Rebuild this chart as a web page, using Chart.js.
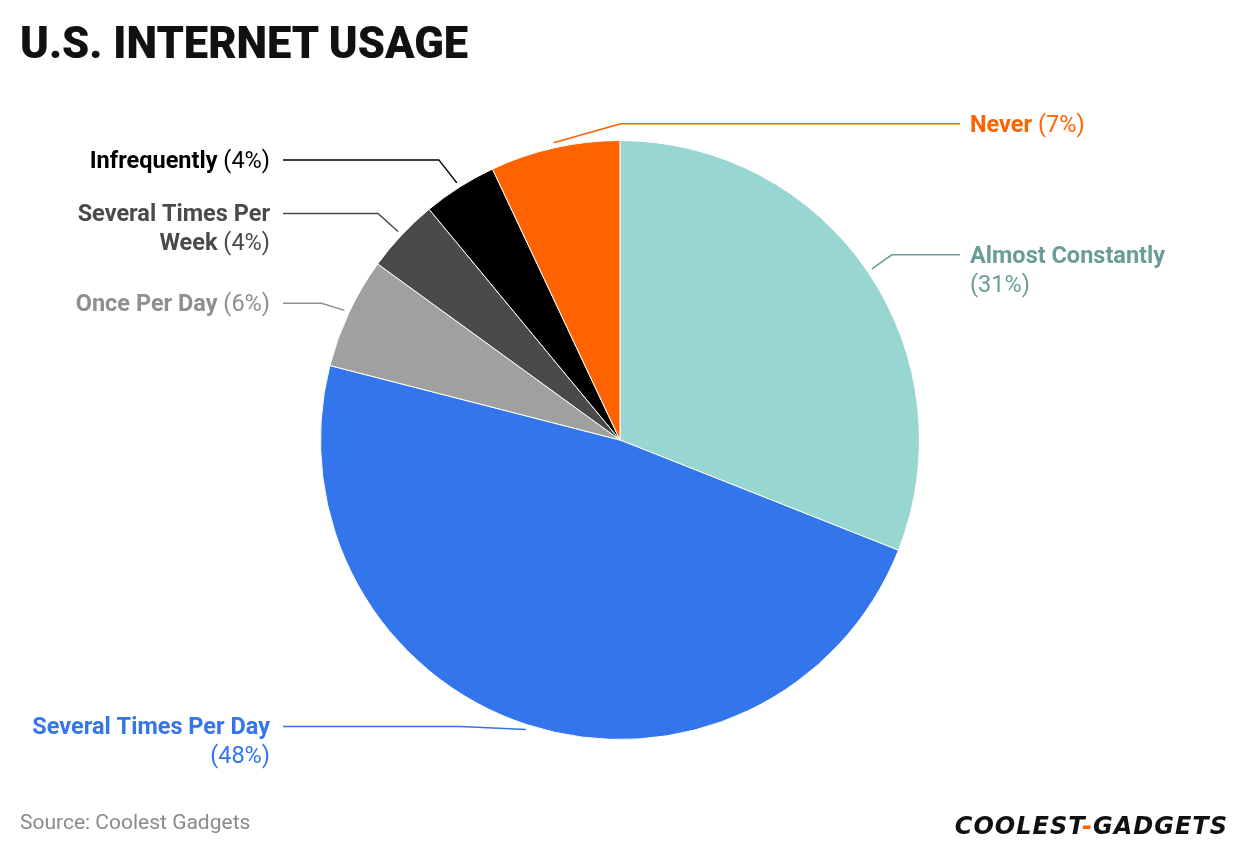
<!DOCTYPE html>
<html>
<head>
<meta charset="utf-8">
<script src="https://cdn.jsdelivr.net/npm/chart.js@4/dist/chart.umd.min.js"></script>
<style>
  body { margin: 0; background: #fff; font-family: Roboto, sans-serif; }
  #wrap { position: relative; width: 1240px; height: 856px; }
  #title { position: absolute; left: 20px; top: 18px; font-size: 43.5px; font-weight: 900; color: #111; }
  #source { position: absolute; left: 20px; top: 810px; font-size: 21px; color: #8a8a8a; }
  #logo { position: absolute; right: 12px; top: 812px; font-size: 24px; font-weight: 900; font-style: italic; letter-spacing: 1px; color: #111; font-family: "DejaVu Sans", sans-serif; }
  #logo span { color: #ff6200; }
  canvas { position: absolute; left: 0; top: 0; }
</style>
</head>
<body>
<div id="wrap">
  <canvas id="chart" width="1240" height="856"></canvas>
  <div id="title">U.S. INTERNET USAGE</div>
  <div id="source">Source: Coolest Gadgets</div>
  <div id="logo">COOLEST<span>-</span>GADGETS</div>
</div>
<script>
const categories = ['Almost Constantly', 'Several Times Per Day', 'Once Per Day', 'Several Times Per Week', 'Infrequently', 'Never'];
const values = [31, 48, 6, 4, 4, 7];
const colors = ['#98d6d2', '#3375eb', '#a0a0a0', '#4a4a4a', '#000000', '#ff6200'];
const labelColors = ['#6a9c98', '#3375eb', '#8f8f8f', '#4a4a4a', '#000000', '#ff6200'];
// label lines: name lines, value goes after last name line (or on its own line)
const labelLines = [
  ['Almost Constantly', ''],
  ['Several Times Per Day', ''],
  ['Once Per Day'],
  ['Several Times Per', 'Week'],
  ['Infrequently'],
  ['Never']
];
// elbow offsets from the arc start point
const elbows = [[20, -14], [-65, -3], [-23, -7], [-20, -18], [-18, -23], [67, -19]];

const leaderPlugin = {
  id: 'leaders',
  afterDatasetsDraw(chart) {
    const ctx = chart.ctx;
    const meta = chart.getDatasetMeta(0);
    meta.data.forEach((arc, i) => {
      const mid = (arc.startAngle + arc.endAngle) / 2;
      const r = arc.outerRadius + 5;
      const sx = arc.x + Math.cos(mid) * r;
      const sy = arc.y + Math.sin(mid) * r;
      const ex = sx + elbows[i][0], ey = sy + elbows[i][1];
      const right = Math.cos(mid) > 0 || i === 5;
      const hx = right ? 960 : 283;
      ctx.save();
      ctx.strokeStyle = labelColors[i];
      ctx.lineWidth = 1.5;
      ctx.beginPath();
      ctx.moveTo(sx, sy); ctx.lineTo(ex, ey); ctx.lineTo(hx, ey);
      ctx.stroke();
      ctx.textBaseline = 'middle';
      ctx.fillStyle = labelColors[i];
      const lines = labelLines[i];
      const pct = '(' + values[i] + '%)';
      const bold = 'bold 23.5px Roboto';
      const norm = '23.5px Roboto';
      lines.forEach((ln, k) => {
        const y = ey + 2 + k * 29;
        const isLast = k === lines.length - 1;
        ctx.font = bold;
        const wName = ctx.measureText(ln).width;
        const suffix = isLast ? (ln ? ' ' : '') + pct : '';
        ctx.font = norm;
        const wPct = ctx.measureText(suffix).width;
        let x = right ? 970 : 270 - (wName + wPct);
        ctx.textAlign = 'left';
        ctx.font = bold;
        ctx.fillText(ln, x, y);
        ctx.font = norm;
        ctx.fillText(suffix, x + wName, y);
      });
      ctx.restore();
    });
  }
};

new Chart(document.getElementById('chart'), {
  type: 'pie',
  data: {
    labels: categories,
    datasets: [{ data: values, backgroundColor: colors, borderColor: '#ffffff', borderWidth: 1 }]
  },
  options: {
    responsive: false,
    animation: false,
    layout: { padding: { top: 140, bottom: 116, left: 0, right: 0 } },
    plugins: { legend: { display: false }, tooltip: { enabled: false } }
  },
  plugins: [leaderPlugin]
});
</script>
</body>
</html>
